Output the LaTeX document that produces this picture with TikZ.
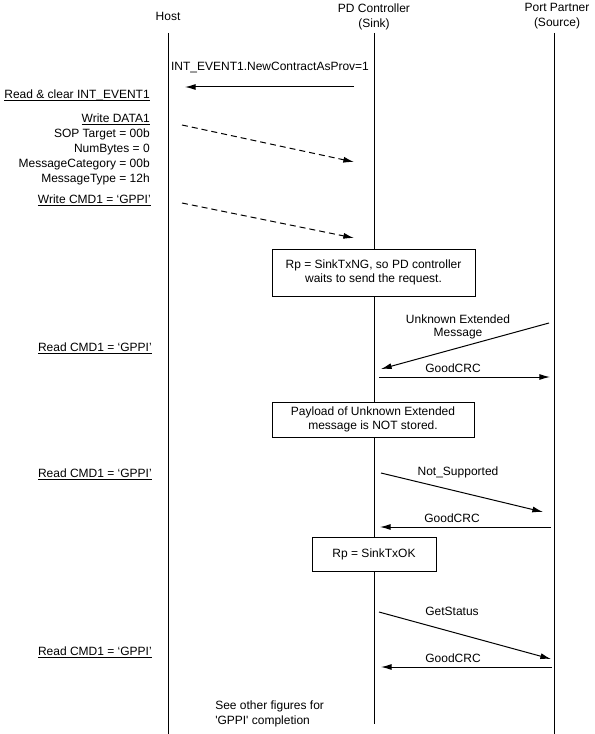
\documentclass[tikz,border=0pt]{standalone}
\usepackage{fontspec}
\setmainfont{Liberation Sans}
\usetikzlibrary{arrows.meta,positioning}
\tikzstyle{lifeline} = [line width=0.75pt]
\tikzstyle{hdr} = [align=center, inner sep=0pt]
\tikzstyle{note} = [anchor=east, align=right, inner sep=0pt]
\tikzstyle{lbl} = [align=center, inner sep=0pt, font=\fontsize{9}{9.75}\selectfont]
\tikzstyle{statebox} = [rectangle, draw=black, fill=white, line width=0.75pt, align=center, inner sep=0pt, font=\fontsize{9}{10.5}\selectfont]
\tikzstyle{arrow} = [line width=0.75pt, -{Latex[length=8pt,width=4.5pt]}]
\tikzstyle{dasharrow} = [arrow, dash pattern=on 4.5pt off 3pt]
\newcommand{\undl}[1]{\underline{\raisebox{0pt}[\height][0pt]{#1}}}

\begin{document}
\begin{tikzpicture}[x=0.75pt, y=-0.75pt, font=\fontsize{9}{11.25}\selectfont]
\useasboundingbox (0,0) rectangle (594,734);

% headers and lifelines
\node (host) [hdr] at (168,16) {Host};
\node (pdc) [hdr] at (374,16.5) {PD Controller\\(Sink)};
\node (port) [hdr] at (557,16.5) {Port Partner\\(Source)};
\coordinate (hostTop) at (168,33);
\coordinate (hostEnd) at (168,734);
\coordinate (pdcTop) at (374,33);
\coordinate (pdcEnd) at (374,724);
\coordinate (portTop) at (554,33);
\coordinate (portEnd) at (554,734);
\draw [lifeline] (hostTop) -- (hostEnd);
\draw [lifeline] (pdcTop) -- (pdcEnd);
\draw [lifeline] (portTop) -- (portEnd);

% host side notes
\node (rdclr) [note] at (150,95) {\undl{Read \& clear INT\_EVENT1}};
\node (wrdata) [note] at (150,149.5) {\undl{Write DATA1}\\SOP Target = 00b\\NumBytes = 0\\MessageCategory = 00b\\MessageType = 12h};
\node (wrcmd) [note] at (151,200) {\undl{Write CMD1 = `GPPI'}};
\node (rdcmd1) [note] at (152,348) {\undl{Read CMD1 = `GPPI'}};
\node (rdcmd2) [note] at (152,474) {\undl{Read CMD1 = `GPPI'}};
\node (rdcmd3) [note] at (152,652) {\undl{Read CMD1 = `GPPI'}};
\node (seemore) [note, anchor=west, align=left] at (215,713.5) {See other figures for\\\textquotesingle GPPI\textquotesingle\ completion};

% state boxes on the PD controller
\node (txng) [statebox, minimum width=152.25pt, minimum height=35.25pt] at (373.5,272.5) {Rp = SinkTxNG, so PD controller\\waits to send the request.};
\node (nostore) [statebox, minimum width=151.5pt, minimum height=26.25pt] at (373,419.5) {Payload of Unknown Extended\\message is NOT stored.};
\node (txok) [statebox, minimum width=93pt, minimum height=25.5pt] at (374,554) {Rp = SinkTxOK};

% message end points
\coordinate (intA) at (354,87);
\coordinate (intB) at (185,87);
\coordinate (dataA) at (182,125);
\coordinate (dataB) at (354,162);
\coordinate (cmdA) at (182,203);
\coordinate (cmdB) at (354,238);
\coordinate (unkA) at (549,323);
\coordinate (unkB) at (381,369);
\coordinate (crc1A) at (379,377);
\coordinate (crc1B) at (550,377);
\coordinate (nsA) at (381,473);
\coordinate (nsB) at (543,512);
\coordinate (crc2A) at (551,527);
\coordinate (crc2B) at (380,527);
\coordinate (gsA) at (379,612);
\coordinate (gsB) at (551,659);
\coordinate (crc3A) at (552,667);
\coordinate (crc3B) at (381,667);

% messages
\draw [arrow] (intA) -- (intB);
\draw [dasharrow] (dataA) -- (dataB);
\draw [dasharrow] (cmdA) -- (cmdB);
\draw [arrow] (unkA) -- (unkB);
\draw [arrow] (crc1A) -- (crc1B);
\draw [arrow] (nsA) -- (nsB);
\draw [arrow] (crc2A) -- (crc2B);
\draw [arrow] (gsA) -- (gsB);
\draw [arrow] (crc3A) -- (crc3B);

% message labels
\node (lint) [lbl] at (270,68) {INT\_EVENT1.NewContractAsProv=1};
\node (lunk) [lbl] at (458,326.5) {Unknown Extended\\Message};
\node (lcrc1) [lbl] at (453,368) {GoodCRC};
\node (lns) [lbl] at (458,472) {Not\_Supported};
\node (lcrc2) [lbl] at (452,518) {GoodCRC};
\node (lgs) [lbl] at (452,611) {GetStatus};
\node (lcrc3) [lbl] at (453,658) {GoodCRC};

\end{tikzpicture}
\end{document}
